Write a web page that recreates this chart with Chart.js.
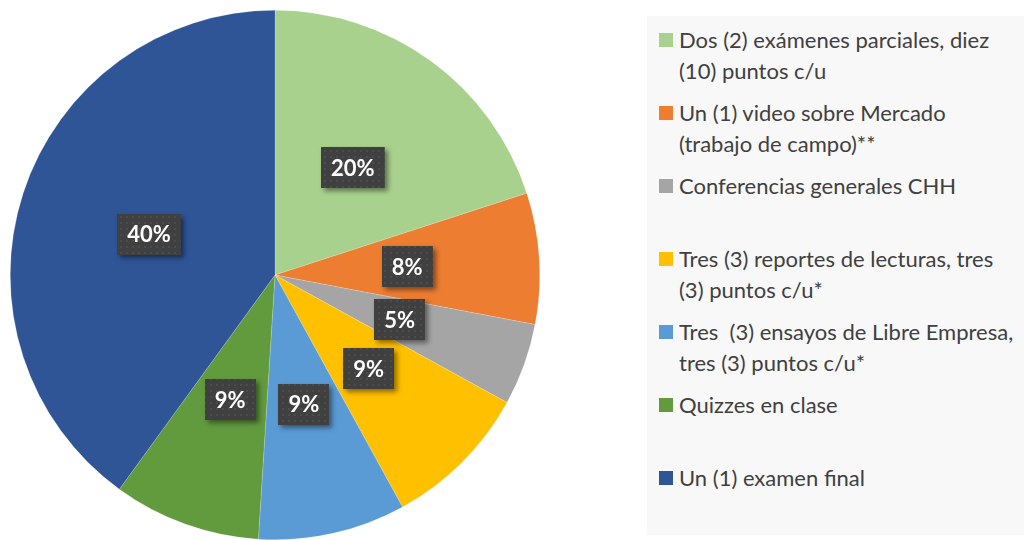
<!DOCTYPE html>
<html>
<head>
<meta charset="utf-8">
<script src="https://cdn.jsdelivr.net/npm/chart.js@4/dist/chart.umd.min.js"></script>
<style>
  html, body { margin: 0; padding: 0; background: #ffffff; }
  body { width: 1024px; height: 540px; position: relative; overflow: hidden; font-family: Lato, "Open Sans", sans-serif; }
  #chartBox { position: absolute; left: 10px; top: 10px; width: 530px; height: 530px; }
  #legend { position: absolute; left: 647px; top: 16px; width: 377px; height: 519px; background: #f8f8f8; }
  .item { position: absolute; left: 12px; display: flex; align-items: flex-start; }
  .sw { width: 14px; height: 14px; margin-top: 9px; margin-right: 6px; flex: none; }
  .txt { color: #404040; font-size: 22px; line-height: 31px; white-space: pre; }
</style>
</head>
<body>
<div id="chartBox"><canvas id="c" width="530" height="530"></canvas></div>
<div id="legend"></div>
<script>
const categories = [
  ["Dos (2) exámenes parciales, diez", "(10) puntos c/u"],
  ["Un (1) video sobre Mercado", "(trabajo de campo)**"],
  ["Conferencias generales CHH"],
  ["Tres (3) reportes de lecturas, tres", "(3) puntos c/u*"],
  ["Tres  (3) ensayos de Libre Empresa,", "tres (3) puntos c/u*"],
  ["Quizzes en clase"],
  ["Un (1) examen final"]
];
const values = [20, 8, 5, 9, 9, 9, 40];
const valueLabels = ["20%", "8%", "5%", "9%", "9%", "9%", "40%"];
const colors = ["#A9D18E", "#ED7D31", "#A5A5A5", "#FFC000", "#5B9BD5", "#629B3E", "#2F5597"];

// HTML legend built from the arrays
const legend = document.getElementById('legend');
categories.forEach((lines, i) => {
  const it = document.createElement('div');
  it.className = 'item';
  it.style.top = (8 + i * 73) + 'px';
  const sw = document.createElement('div');
  sw.className = 'sw';
  sw.style.background = colors[i];
  const tx = document.createElement('div');
  tx.className = 'txt';
  tx.textContent = lines.join('\n');
  it.appendChild(sw); it.appendChild(tx);
  legend.appendChild(it);
});

// dotted pattern for label boxes
const pc = document.createElement('canvas');
pc.width = 6; pc.height = 6;
const pctx = pc.getContext('2d');
pctx.fillStyle = '#404040'; pctx.fillRect(0, 0, 6, 6);
pctx.fillStyle = '#4c4c4c'; pctx.fillRect(2, 2, 2, 2);

const labelPlugin = {
  id: 'boxLabels',
  afterDatasetsDraw(chart) {
    const ctx = chart.ctx;
    const meta = chart.getDatasetMeta(0);
    const pattern = ctx.createPattern(pc, 'repeat');
    ctx.save();
    ctx.font = 'bold 22px Lato, "Open Sans", sans-serif';
    ctx.textAlign = 'center';
    ctx.textBaseline = 'middle';
    meta.data.forEach((arc, i) => {
      const p = arc.tooltipPosition();
      const t = valueLabels[i];
      const w = ctx.measureText(t).width + 20;
      const h = 41;
      const x = Math.round(p.x - w / 2), y = Math.round(p.y - h / 2);
      ctx.save();
      ctx.shadowColor = 'rgba(0,0,0,0.45)';
      ctx.shadowBlur = 5;
      ctx.shadowOffsetX = 3;
      ctx.shadowOffsetY = 3;
      ctx.fillStyle = '#404040';
      ctx.fillRect(x, y, w, h);
      ctx.restore();
      ctx.fillStyle = pattern;
      ctx.fillRect(x, y, w, h);
      ctx.fillStyle = '#ffffff';
      ctx.fillText(t, p.x, p.y + 1);
    });
    ctx.restore();
  }
};

new Chart(document.getElementById('c'), {
  type: 'pie',
  data: {
    labels: categories.map(l => l.join(' ')),
    datasets: [{
      data: values,
      backgroundColor: colors,
      borderColor: 'rgba(255,255,255,0.35)',
      borderWidth: 0.5
    }]
  },
  options: {
    responsive: false,
    animation: false,
    layout: { padding: 0 },
    plugins: { legend: { display: false }, tooltip: { enabled: false } }
  },
  plugins: [labelPlugin]
});
</script>
</body>
</html>
